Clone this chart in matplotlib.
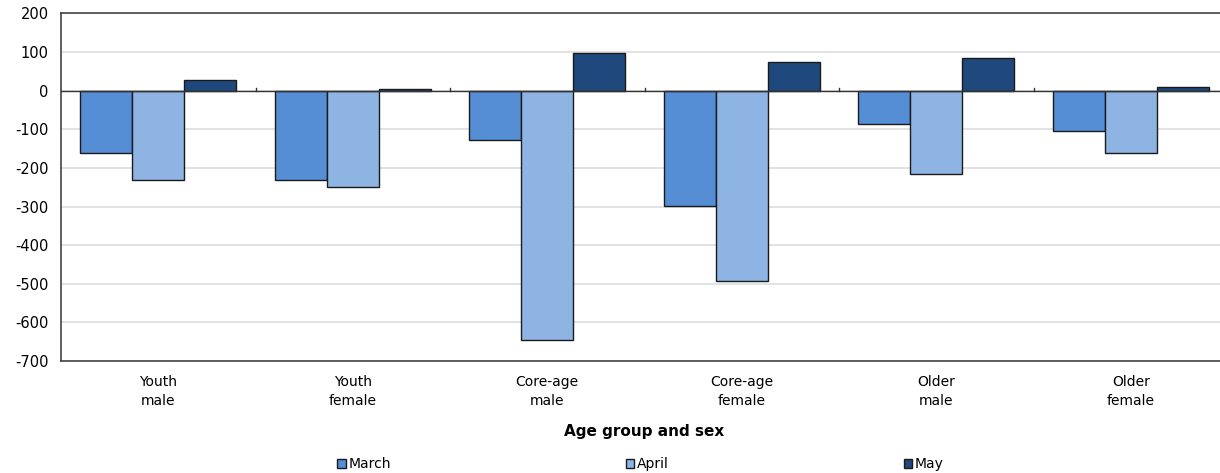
import numpy as np
import matplotlib.pyplot as plt
from matplotlib.patches import Patch

# -------------------------------------------------
# Data: monthly employment change by age group and sex (thousands)
# -------------------------------------------------

categories = [
    "Youth\nmale",
    "Youth\nfemale",
    "Core-age\nmale",
    "Core-age\nfemale",
    "Older\nmale",
    "Older\nfemale",
]

months = ["March", "April", "May"]

march = [-161, -230, -127, -298, -86, -105]
april = [-231, -250, -645, -492, -215, -162]
may = [27, 4, 97, 74, 85, 9]

colors = ["#558ED5", "#8EB4E3", "#1F497D"]

# -------------------------------------------------
# Figure
# -------------------------------------------------

plt.rcParams["font.family"] = ["DejaVu Sans"]
plt.rcParams["font.size"] = 10
plt.rcParams["axes.unicode_minus"] = False

fig = plt.figure(figsize=(12.2, 4.73), dpi=100)
ax = fig.add_axes([0.05, 0.2368, 0.9566, 0.7347])

x = np.arange(len(categories))
bar_width = 0.267

for i, (name, values) in enumerate(zip(months, [march, april, may])):
    ax.bar(
        x + (i - 1) * bar_width,
        values,
        width=bar_width,
        color=colors[i],
        edgecolor="#1a1a1a",
        linewidth=1.0,
        label=name,
        zorder=3,
    )

ax.set_xlim(-0.5, len(categories) - 0.5)
ax.set_ylim(-700, 200)
ax.set_yticks(np.arange(-700, 201, 100))

ax.grid(axis="y", color="#DDDDDD", linewidth=1.2, zorder=0)
ax.set_axisbelow(True)

# zero line with short category separators
ax.axhline(0, color="#333333", linewidth=1.0, zorder=4)
for b in np.arange(0.5, len(categories) - 0.5):
    ax.plot([b, b], [0, 8], color="#333333", linewidth=1.0, zorder=4)

ax.set_xticks(x)
ax.set_xticklabels(categories, linespacing=1.45)
ax.tick_params(axis="x", length=0, pad=10)
ax.tick_params(axis="y", length=0, pad=9, labelsize=10.5)

for side in ["left", "bottom", "top"]:
    ax.spines[side].set_color("#444444")
    ax.spines[side].set_linewidth(1.2)
ax.spines["right"].set_visible(False)

ax.set_xlabel("Age group and sex", fontweight="bold", fontsize=11, labelpad=12)

handles = [
    Patch(facecolor=c, edgecolor="#1a1a1a", linewidth=1.0, label=m)
    for c, m in zip(colors, months)
]
fig.legend(
    handles=handles,
    loc="center",
    bbox_to_anchor=(0.525, 0.019),
    ncol=3,
    frameon=False,
    handlelength=0.6,
    handleheight=0.6,
    handletextpad=0.2,
    columnspacing=16.9,
)

fig.savefig("out.png", dpi=100)
